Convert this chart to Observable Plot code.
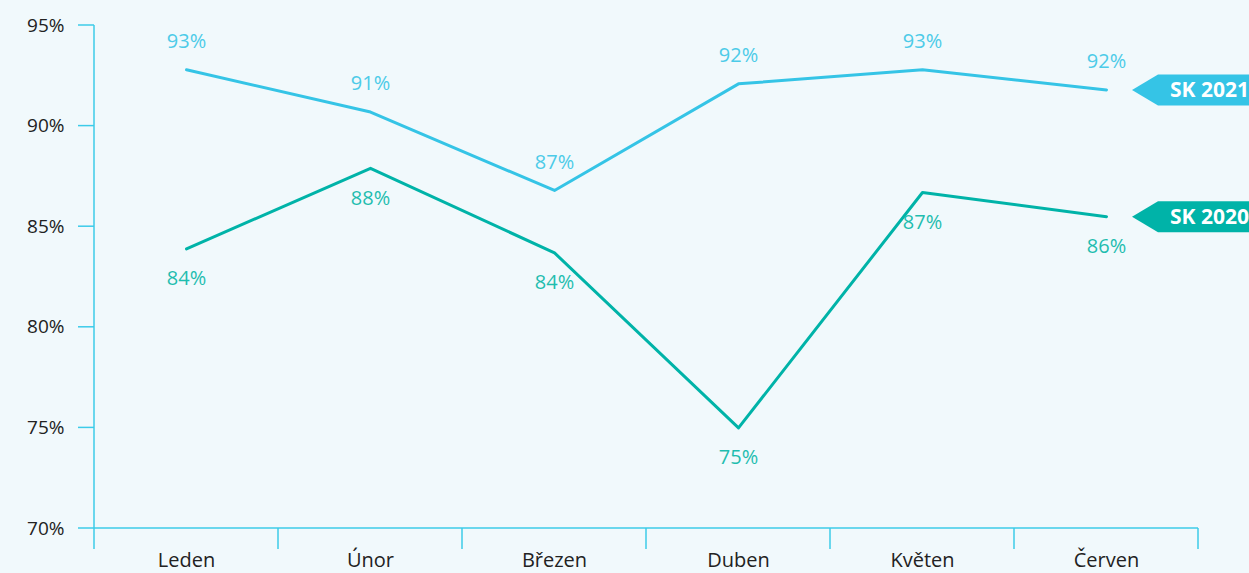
<!DOCTYPE html>
<html><head><meta charset="utf-8">
<script src="https://cdn.jsdelivr.net/npm/d3@7"></script>
<script src="https://cdn.jsdelivr.net/npm/@observablehq/plot@0.6"></script>
<style>body{margin:0;background:#f1f9fc;} svg{display:block;overflow:hidden}</style>
</head><body><div id="chart"></div>
<script>
const months = ["Leden","Únor","Březen","Duben","Květen","Červen"];
const sk2021 = [92.8, 90.7, 86.8, 92.1, 92.8, 91.8];
const sk2020 = [83.9, 87.9, 83.7, 75.0, 86.7, 85.5];
const seriesNames = ["SK 2021","SK 2020"];
const seriesColors = ["#35c4e6","#00b3a8"];
const labelColors = ["#4ccbe8","#1fbdaf"];
const yTicks = [70,75,80,85,90,95];
const axisColor = "#3ccbe9";
const fontFam = "'Open Sans'";

const rows2021 = months.map((m,i)=>({month:m, value:sk2021[i], series:seriesNames[0]}));
const rows2020 = months.map((m,i)=>({month:m, value:sk2020[i], series:seriesNames[1]}));
const data = [...rows2021, ...rows2020];

function frame(index, scales, values, dims) {
  const g = d3.create("svg:g");
  const x = scales.x, y = scales.y;
  const step = x(months[1]) - x(months[0]);
  const left = x(months[0]) - step/2;
  const right = x(months[months.length-1]) + step/2;
  const yb = y(yTicks[0]);
  const yt = y(yTicks[yTicks.length-1]);
  const tickLen = 21;
  g.attr("stroke", axisColor).attr("stroke-width", 1.5).attr("fill","none");
  g.append("line").attr("x1",left).attr("x2",left).attr("y1",yt).attr("y2",yb+tickLen);
  g.append("line").attr("x1",left).attr("x2",right).attr("y1",yb).attr("y2",yb);
  for (let i = 1; i <= months.length; i++) {
    const xe = left + i*step;
    g.append("line").attr("x1",xe).attr("x2",xe).attr("y1",yb).attr("y2",yb+tickLen);
  }
  for (const t of yTicks) {
    g.append("line").attr("x1",left-16).attr("x2",left).attr("y1",y(t)).attr("y2",y(t));
  }
  return g.node();
}

function tags(index, scales, values, dims) {
  const g = d3.create("svg:g");
  const x = scales.x, y = scales.y;
  const lastM = months[months.length-1];
  const lasts = [sk2021[sk2021.length-1], sk2020[sk2020.length-1]];
  lasts.forEach((v, i) => {
    const yy = y(v) + 0.5;
    const tip = x(lastM) + 26;
    const h = 15.5;
    const xr = dims.width + 20;
    g.append("path")
      .attr("d", `M${tip},${yy} L${tip+26},${yy-h} L${xr},${yy-h} L${xr},${yy+h} L${tip+26},${yy+h} Z`)
      .attr("fill", seriesColors[i]);
    g.append("text")
      .attr("x", tip + 38).attr("y", yy).attr("dy","0.36em")
      .attr("text-anchor","start")
      .attr("fill","white").attr("font-weight","bold").attr("font-size",21)
      .attr("font-family",fontFam)
      .text(seriesNames[i]);
  });
  return g.node();
}

const chart = Plot.plot({
  width: 1249, height: 573,
  marginLeft: 93, marginRight: 50, marginTop: 25, marginBottom: 45,
  style: {background: "#f1f9fc", fontFamily: fontFam, fontSize: "19px"},
  x: {type: "point", domain: months, padding: 0.5, label: null},
  y: {domain: [70, 95], label: null},
  color: {domain: seriesNames, range: seriesColors},
  marks: [
    frame,
    Plot.axisY({ticks: yTicks, tickSize: 0, tickPadding: 29, tickFormat: d => d + "%", fill: "#222", fontSize: 19, label: null}),
    Plot.axisX({tickSize: 0, tickPadding: 24, fill: "#222", fontSize: 20, label: null}),
    Plot.line(data, {x: "month", y: "value", stroke: "series", strokeWidth: 3}),
    Plot.text(rows2021, {x: "month", y: "value", text: d => Math.round(d.value) + "%", dy: -28, fill: labelColors[0], fontSize: 20}),
    Plot.text(rows2020, {x: "month", y: "value", text: d => Math.round(d.value) + "%", dy: 30, fill: labelColors[1], fontSize: 20}),
    tags
  ]
});
document.getElementById("chart").appendChild(chart);
</script>
</body></html>
